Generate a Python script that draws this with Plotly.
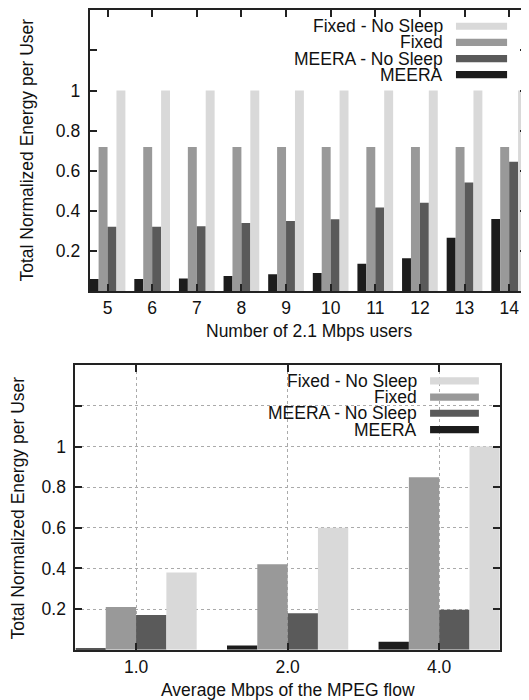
import plotly.graph_objects as go

# the page body adds an 8px margin, so the figure is drawn 8px in from the corner
OFF = 8
W, H = 529 - OFF, 700 - OFF

# --- data ---
users = ["5", "6", "7", "8", "9", "10", "11", "12", "13", "14"]
meera_top = [0.061, 0.061, 0.063, 0.076, 0.084, 0.091, 0.137, 0.164, 0.266, 0.36]
fixed_top = [0.719] * 10
meera_ns_top = [0.321, 0.321, 0.324, 0.34, 0.35, 0.359, 0.417, 0.441, 0.542, 0.645]
fixed_ns_top = [1.0] * 10

mpeg_rates = ["1.0", "2.0", "4.0"]
meera_bot = [0.005, 0.02, 0.039]
fixed_bot = [0.21, 0.42, 0.849]
meera_ns_bot = [0.17, 0.179, 0.197]
fixed_ns_bot = [0.38, 0.60, 1.0]

series_names = ["MEERA", "Fixed", "MEERA - No Sleep", "Fixed - No Sleep"]
colors = ["#1c1c1c", "#999999", "#5a5a5a", "#d9d9d9"]

y_ticks = [0.2, 0.4, 0.6, 0.8, 1.0, 1.2]
y_ticktext = ["0.2", "0.4", "0.6", "0.8", "1", ""]

FONT = "Liberation Sans, Arial, Helvetica, sans-serif"
FS = 17.5


# page pixel -> paper fraction
def px_x(p):
    return (p - OFF) / W


def px_y(p):
    return 1 - (p - OFF) / H


fig = go.Figure()

top_series = [meera_top, fixed_top, meera_ns_top, fixed_ns_top]
bot_series = [meera_bot, fixed_bot, meera_ns_bot, fixed_ns_bot]

for name, color, vals in zip(series_names, colors, top_series):
    fig.add_trace(go.Bar(x=users, y=vals, name=name, marker_color=color,
                         marker_line_width=0, xaxis="x", yaxis="y",
                         showlegend=False))
for name, color, vals in zip(series_names, colors, bot_series):
    fig.add_trace(go.Bar(x=mpeg_rates, y=vals, name=name, marker_color=color,
                         marker_line_width=0, xaxis="x2", yaxis="y2",
                         showlegend=False))

axis_common = dict(
    showline=True, linecolor="#222", linewidth=2, mirror="ticks",
    ticks="inside", ticklen=7, tickwidth=1.5, tickcolor="#222",
    tickfont=dict(family=FONT, size=FS, color="#111"),
    zeroline=False,
)

# panel boxes in page pixels: (left, top, right, bottom)
top_box = (90, 8.3, 529, 290)
bot_box = (75.7, 364.3, 501.7, 649.5)

fig.update_layout(
    width=W, height=H,
    margin=dict(l=0, r=0, t=0, b=0),
    paper_bgcolor="white", plot_bgcolor="white",
    barmode="group", bargap=0.2, bargroupgap=0,
    font=dict(family=FONT, size=FS, color="#111"),
    xaxis=dict(domain=[px_x(top_box[0]), px_x(top_box[2])],
               anchor="y", range=[-0.4, 9.4], showgrid=False,
               ticklabelstandoff=0, **axis_common),
    yaxis=dict(domain=[px_y(top_box[3]), px_y(top_box[1])],
               anchor="x", range=[0, 1.4], tickvals=y_ticks,
               ticktext=y_ticktext, showgrid=False,
               ticklabelstandoff=4, **axis_common),
    xaxis2=dict(domain=[px_x(bot_box[0]), px_x(bot_box[2])],
                anchor="y2", range=[-0.4, 2.4], showgrid=True,
                gridcolor="#aaaaaa", griddash="dot", gridwidth=1,
                ticklabelstandoff=0, **axis_common),
    yaxis2=dict(domain=[px_y(bot_box[3]), px_y(bot_box[1])],
                anchor="x2", range=[0, 1.4], tickvals=y_ticks,
                ticktext=y_ticktext, showgrid=True,
                gridcolor="#aaaaaa", griddash="dot", gridwidth=1,
                ticklabelstandoff=4, **axis_common),
)

# axis titles
titles = [
    dict(text="Number of 2.1 Mbps users", x=px_x(310), y=px_y(330), textangle=0),
    dict(text="Total Normalized Energy per User", x=px_x(27), y=px_y(148), textangle=-90),
    dict(text="Average Mbps of the MPEG flow", x=px_x(289), y=px_y(690), textangle=0),
    dict(text="Total Normalized Energy per User", x=px_x(18), y=px_y(507), textangle=-90),
]
for t in titles:
    fig.add_annotation(xref="paper", yref="paper", showarrow=False,
                       xanchor="center", yanchor="middle",
                       font=dict(family=FONT, size=FS, color="#111"), **t)

# legends drawn by hand: text right-aligned, swatch to the right (gnuplot style)
legend_order = [3, 1, 2, 0]
legends = [
    dict(text_right=446.7, sw_x0=457.7, sw_x1=509, rows=[24.3, 40.5, 56.7, 72.8]),
    dict(text_right=421, sw_x0=431.7, sw_x1=480.7, rows=[380, 396.2, 412.4, 428.8]),
]
for lg in legends:
    for idx, row in zip(legend_order, lg["rows"]):
        fig.add_annotation(xref="paper", yref="paper", showarrow=False,
                           x=px_x(lg["text_right"]), y=px_y(row),
                           xanchor="right", yanchor="middle",
                           text=series_names[idx],
                           font=dict(family=FONT, size=FS, color="#111"))
        fig.add_shape(type="rect", xref="paper", yref="paper",
                      x0=px_x(lg["sw_x0"]), x1=px_x(lg["sw_x1"]),
                      y0=px_y(row + 3.6), y1=px_y(row - 3.6),
                      fillcolor=colors[idx], line_width=0)

fig.write_html("out.html")
